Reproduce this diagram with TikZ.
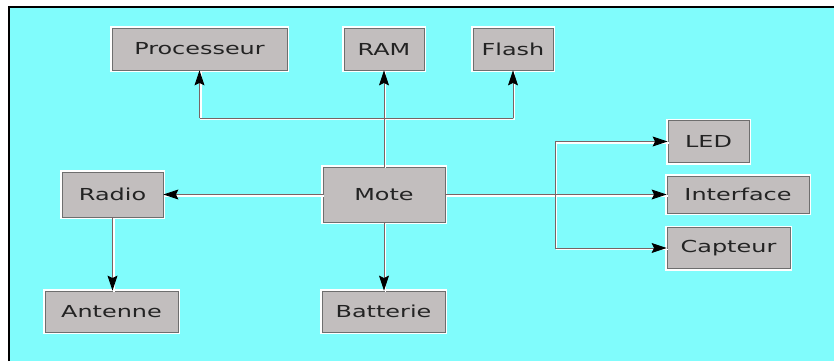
\documentclass[tikz,border=0pt]{standalone}
\usepackage{fontspec}
\setmainfont[FakeStretch=1.45]{DejaVu Sans}
\usetikzlibrary{arrows.meta}
\definecolor{bgcyan}{RGB}{128,252,252}
\definecolor{boxfill}{RGB}{194,190,190}
\definecolor{boxline}{RGB}{110,110,110}
\definecolor{linec}{RGB}{120,100,100}
\definecolor{txt}{RGB}{35,35,35}
\tikzset{
  blk/.style={draw=boxline, line width=0.8pt, fill=boxfill, inner sep=0pt,
    text=txt, font=\fontsize{16.5}{18}\selectfont,
    preaction={draw=white, line width=4pt}},
  conn/.style={draw=linec, line width=0.9pt,
    -{Stealth[length=15pt,width=10pt,inset=2.5pt,fill=black,color=black]}},
  plain/.style={draw=linec, line width=0.9pt},
}
\begin{document}
\begin{tikzpicture}[x=1pt,y=-1pt]
\useasboundingbox (0,0) rectangle (834,361);
\fill[white] (0,0) rectangle (834,361);
\fill[bgcyan] (9,7) rectangle (834,361);
\draw[black, line width=1.2pt] (9,361) -- (9,7) -- (834,7);

\node[blk, minimum width=175pt, minimum height=42pt] (proc) at (199.5,49) {Processeur};
\node[blk, minimum width=80pt, minimum height=42pt] (ram) at (384,49) {RAM};
\node[blk, minimum width=80pt, minimum height=42pt] (flash) at (513,49) {Flash};
\node[blk, minimum width=122pt, minimum height=55pt] (mote) at (384,194.5) {Mote};
\node[blk, minimum width=101pt, minimum height=45pt] (radio) at (112.5,194.5) {Radio};
\node[blk, minimum width=133pt, minimum height=41pt] (ant) at (111.5,311.5) {Antenne};
\node[blk, minimum width=123pt, minimum height=41pt] (bat) at (383.5,311.5) {Batterie};
\node[blk, minimum width=81pt, minimum height=42pt] (led) at (708.5,141.5) {LED};
\node[blk, minimum width=142pt, minimum height=37pt] (intf) at (738,194.5) {Interface};
\node[blk, minimum width=123pt, minimum height=41pt] (capt) at (728.5,248) {Capteur};

\coordinate (jl) at (199.5,118);
\coordinate (jr) at (513,118);
\coordinate (bt) at (555,141.5);
\coordinate (bb) at (555,248);

% white shadows
\begin{scope}[white, line width=1.6pt, transform canvas={shift={(1.5pt,-1.5pt)}}]
\draw (mote.north) -- (ram.south);
\draw (proc.south) -- (jl) -- (jr) -- (flash.south);
\draw (mote.west) -- (radio.east);
\draw (radio.south) -- (radio.south |- ant.north);
\draw (mote.south) -- (mote.south |- bat.north);
\draw (mote.east) -- (intf.west);
\draw (led.west) -- (bt) -- (bb) -- (capt.west);
\end{scope}

\draw[conn] (mote.north) -- (ram.south);
\draw[plain] (jl) -- (jr);
\draw[conn] (jl) -- (proc.south);
\draw[conn] (jr) -- (flash.south);
\draw[conn] (mote.west) -- (radio.east);
\draw[conn] (radio.south) -- (radio.south |- ant.north);
\draw[conn] (mote.south) -- (mote.south |- bat.north);
\draw[conn] (mote.east) -- (intf.west);
\draw[plain] (bt) -- (bb);
\draw[conn] (bt) -- (led.west);
\draw[conn] (bb) -- (capt.west);
\end{tikzpicture}
\end{document}
